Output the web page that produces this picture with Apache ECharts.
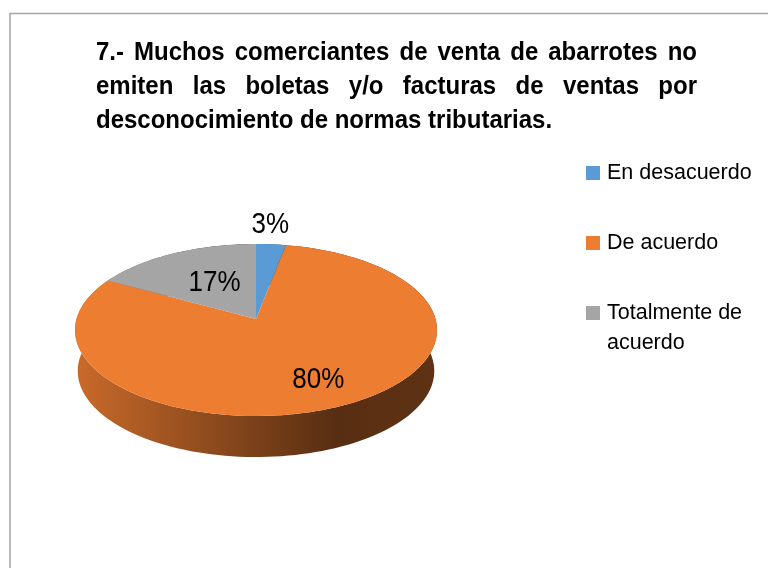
<!DOCTYPE html>
<html>
<head>
<meta charset="utf-8" />
<title>Pregunta 7</title>
<style>
	html, body { margin: 0; padding: 0; background: #fff; }
	#main { width: 768px; height: 568px; }
</style>
<script src="https://cdn.jsdelivr.net/npm/echarts@6/dist/echarts.min.js"></script>
</head>
<body>
<div id="main"></div>
<script>
const categories = ['En desacuerdo', 'De acuerdo', 'Totalmente de\nacuerdo'];
const values = [3, 80, 17];
const colors = ['#5B9BD5', '#ED7D31', '#A5A5A5'];
const titleLines = [
	'7.- Muchos comerciantes de venta de abarrotes no',
	'emiten las boletas y/o facturas de ventas por',
	'desconocimiento de normas tributarias.'
];

const FONT = '"Liberation Sans", Arial, sans-serif';
const STRETCH = 1.1; // el original esta estirado en vertical

// pastel en perspectiva
const pie = { x: 256, y: 319, a: 179.5, b: 84.6, k: 0.128, depth: 41, shrink: 0.985 };
// desplazamiento de cada etiqueta respecto al punto medio de su sector
const labelNudge = [[-5, 2], [13, 12], [10, 5]];

const total = values.reduce((a, b) => a + b, 0);

function project(deg, r) {
	const t = deg * Math.PI / 180;
	const u = Math.sin(t) * r;
	const v = -Math.cos(t) * r;
	const w = 1 - pie.k * v;
	return [pie.x + pie.a * u / w, pie.y + pie.b * v / w];
}

function arcPoints(from, to) {
	const pts = [];
	const n = Math.max(2, Math.ceil((to - from) / 2));
	for (let i = 0; i <= n; i++) {
		pts.push(project(from + (to - from) * i / n, 1));
	}
	return pts;
}

// oscurece un color hex
function shade(hex, f) {
	const n = parseInt(hex.slice(1), 16);
	const r = Math.round((n >> 16) * f);
	const g = Math.round(((n >> 8) & 255) * f);
	const b = Math.round((n & 255) * f);
	return 'rgb(' + r + ',' + g + ',' + b + ')';
}

function renderSlice(idx) {
	return function (params, api) {
		const before = values.slice(0, idx).reduce((a, b) => a + b, 0);
		const start = before / total * 360;
		const end = start + api.value(0) / total * 360;
		const color = colors[idx];
		const rim = arcPoints(start, end);
		const wallBottom = rim.slice().reverse().map(p => [
			pie.x + (p[0] - pie.x) * pie.shrink,
			p[1] + pie.depth
		]);
		const mid = project((start + end) / 2, idx === 0 ? 1.33 : 0.6);
		return {
			type: 'group',
			children: [
				{
					type: 'polygon',
					z2: 1,
					shape: { points: rim.concat(wallBottom) },
					style: {
						fill: new echarts.graphic.LinearGradient(0, 0, 1, 0, [
							{ offset: 0, color: shade(color, 0.85) },
							{ offset: 0.72, color: shade(color, 0.37) },
							{ offset: 1, color: shade(color, 0.4) }
						])
					}
				},
				{
					type: 'polygon',
					z2: 2,
					shape: { points: [[pie.x, pie.y]].concat(rim) },
					style: { fill: color }
				},
				{
					type: 'text',
					z2: 3,
					x: mid[0] + labelNudge[idx][0],
					y: mid[1] + labelNudge[idx][1],
					scaleY: STRETCH,
					style: {
						text: api.value(0) + '%',
						font: '26px ' + FONT,
						fill: '#000',
						align: 'center',
						verticalAlign: 'middle'
					}
				}
			]
		};
	};
}

// titulo justificado: cada palabra va colocada aparte
function titleWords() {
	const font = 'bold 24px ' + FONT;
	const ctx = document.createElement('canvas').getContext('2d');
	ctx.font = font;
	const left = 96;
	const width = 601;
	const out = [];
	titleLines.forEach((line, i) => {
		const words = line.split(' ');
		const sizes = words.map(w => ctx.measureText(w).width);
		const used = sizes.reduce((a, b) => a + b, 0);
		const last = i === titleLines.length - 1;
		const gap = last ? ctx.measureText(' ').width : (width - used) / (words.length - 1);
		let x = left;
		words.forEach((w, j) => {
			out.push({
				type: 'text',
				x: x,
				y: 53 + i * 34,
				scaleY: STRETCH,
				style: { text: w, font: font, fill: '#000', align: 'left', verticalAlign: 'middle' }
			});
			x += sizes[j] + gap;
		});
	});
	return out;
}

const legendBase = {
	left: 586,
	padding: 0,
	orient: 'vertical',
	icon: 'rect',
	itemWidth: 14,
	itemHeight: 14,
	itemGap: 0,
	selectedMode: false,
	textStyle: { fontFamily: FONT, fontSize: 21.5, color: '#000', lineHeight: 30, padding: [0, 0, 0, 2] }
};

const myChart = echarts.init(document.getElementById('main'));
myChart.setOption({
	animation: false,
	backgroundColor: '#fff',
	graphic: [
		{
			type: 'rect',
			shape: { x: 10, y: 13.5, width: 800, height: 600 },
			style: { fill: 'none', stroke: '#A6A6A6', lineWidth: 1.5 }
		}
	].concat(titleWords()),
	legend: [
		Object.assign({}, legendBase, { top: 158, data: [categories[0]] }),
		Object.assign({}, legendBase, { top: 228, data: [categories[1]] }),
		// linea vacia arriba para que el cuadro quede a la altura del primer renglon
		Object.assign({}, legendBase, { top: 268, data: [categories[2]], formatter: name => ' \n' + name })
	],
	series: categories.map((name, i) => ({
		type: 'custom',
		name: name,
		coordinateSystem: 'none',
		itemStyle: { color: colors[i] },
		renderItem: renderSlice(i),
		data: [values[i]]
	}))
});
</script>
</body>
</html>
